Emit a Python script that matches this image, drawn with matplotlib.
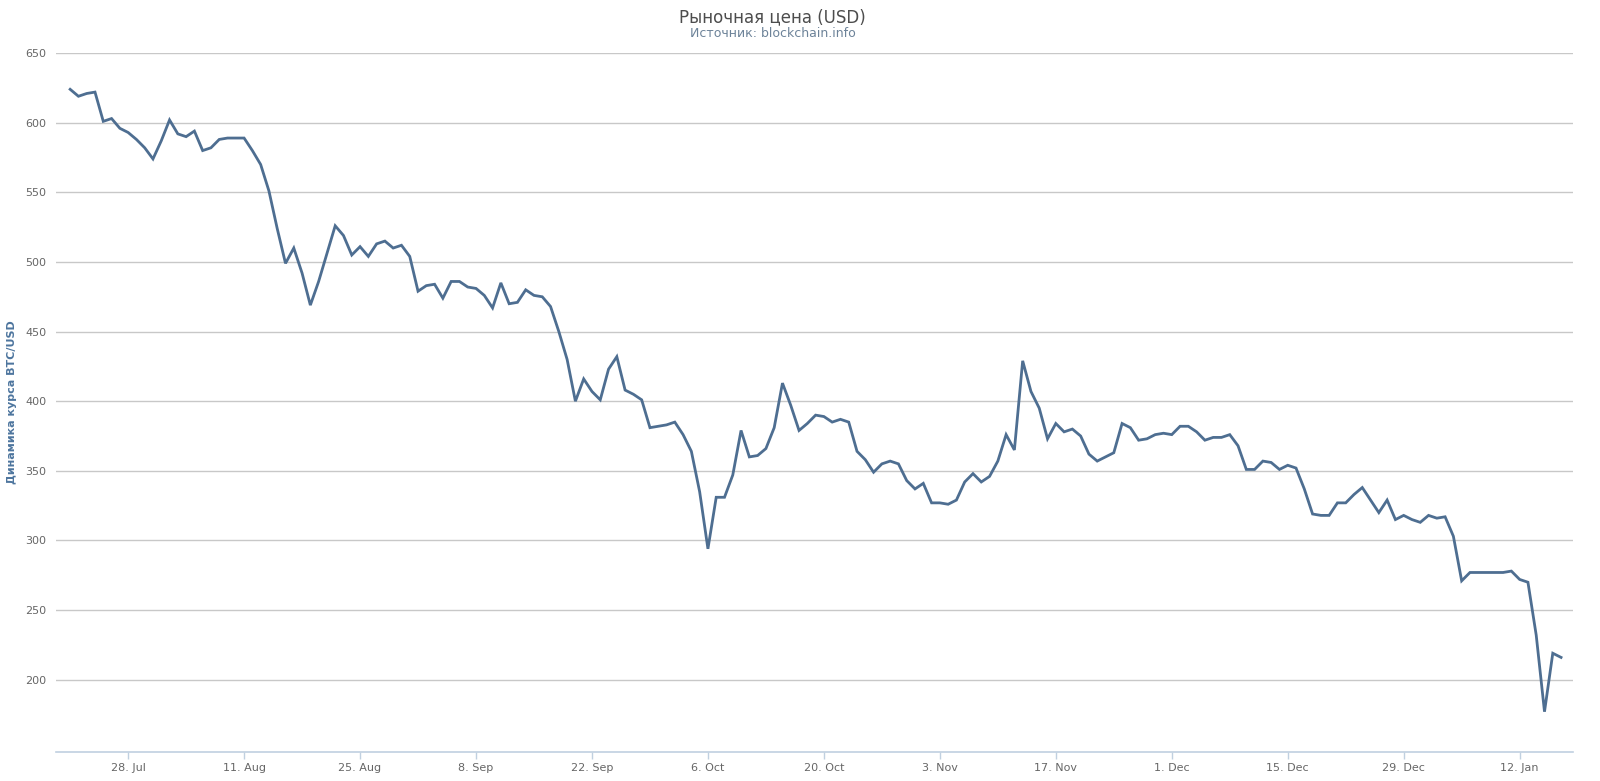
import matplotlib
matplotlib.use("Agg")
import matplotlib.pyplot as plt
import matplotlib.dates as mdates
import pandas as pd

# daily market price, 21 Jul 2014 .. 17 Jan 2015
start_date = "2014-07-21"
prices = [
    624, 619, 621, 622, 601, 603, 596, 593, 588, 582, 574,          # Jul 21-31
    587, 602, 592, 590, 594, 580, 582, 588, 589, 589, 589, 580,     # Aug 1-12
    570, 551, 524, 499, 510, 492, 469, 486, 506, 526, 519, 505,     # Aug 13-24
    511, 504, 513, 515, 510, 512, 504,                               # Aug 25-31
    479, 483, 484, 474, 486, 486, 482, 481, 476, 467, 485, 470,     # Sep 1-12
    471, 480, 476, 475, 468, 450, 430, 400, 416, 407, 401, 423,     # Sep 13-24
    432, 408, 405, 401, 381, 382,                                    # Sep 25-30
    383, 385, 376, 364, 335, 294, 331, 331, 347, 379, 360, 361,     # Oct 1-12
    366, 381, 413, 397, 379, 384, 390, 389, 385, 387, 385, 364,     # Oct 13-24
    358, 349, 355, 357, 355, 343, 337,                               # Oct 25-31
    341, 327, 327, 326, 329, 342, 348, 342, 346, 357, 376, 365,     # Nov 1-12
    429, 407, 395, 373, 384, 378, 380, 375, 362, 357, 360, 363,     # Nov 13-24
    384, 381, 372, 373, 376, 377,                                    # Nov 25-30
    376, 382, 382, 378, 372, 374, 374, 376, 368, 351, 351, 357,     # Dec 1-12
    356, 351, 354, 352, 337, 319, 318, 318, 327, 327, 333, 338,     # Dec 13-24
    329, 320, 329, 315, 318, 315, 313,                               # Dec 25-31
    318, 316, 317, 303, 271, 277, 277, 277, 277, 277, 278, 272,     # Jan 1-12
    270, 232, 177, 219, 216,                                         # Jan 13-17
]
dates = pd.date_range(start_date, periods=len(prices), freq="D")
tick_dates = pd.date_range("2014-07-28", "2015-01-12", freq="14D")

line_color = "#4E6E91"
grid_color = "#C8C8C8"
label_color = "#666666"

fig = plt.figure(figsize=(16, 7.81), dpi=100)
ax = fig.add_axes([0.035, 0.037, 0.948, 0.895])

ax.plot(dates, prices, color=line_color, linewidth=2.0, solid_joinstyle="miter")

ax.set_ylim(148, 650)
ax.set_yticks(range(200, 651, 50))
ax.set_xlim(dates[0] - pd.Timedelta(hours=41), dates[-1] + pd.Timedelta(hours=34))
ax.set_xticks(tick_dates)
ax.xaxis.set_major_formatter(
    plt.FuncFormatter(lambda v, pos: "%d. %s" % (mdates.num2date(v).day, mdates.num2date(v).strftime("%b")))
)

ax.grid(axis="y", color=grid_color, linewidth=1)
ax.set_axisbelow(True)
for side in ["top", "right", "left"]:
    ax.spines[side].set_visible(False)
ax.spines["bottom"].set_color("#C0D0E0")
ax.spines["bottom"].set_linewidth(1.2)

ax.tick_params(axis="y", length=0, pad=7, labelsize=8, labelcolor=label_color)
ax.tick_params(axis="x", length=5, width=1, color="#C0D0E0", pad=3,
               labelsize=8, labelcolor=label_color)

ax.set_ylabel("Динамика курса BTC/USD", fontsize=8, fontweight="bold",
              color="#4D759E", labelpad=6)

fig.text(0.483, 0.978, "Рыночная цена (USD)", ha="center", va="center",
         fontsize=12, color="#4D4D4D")
fig.text(0.483, 0.957, "Источник: blockchain.info", ha="center", va="center",
         fontsize=9, color="#6D8399")

fig.savefig("out.png", dpi=100, facecolor="white")
